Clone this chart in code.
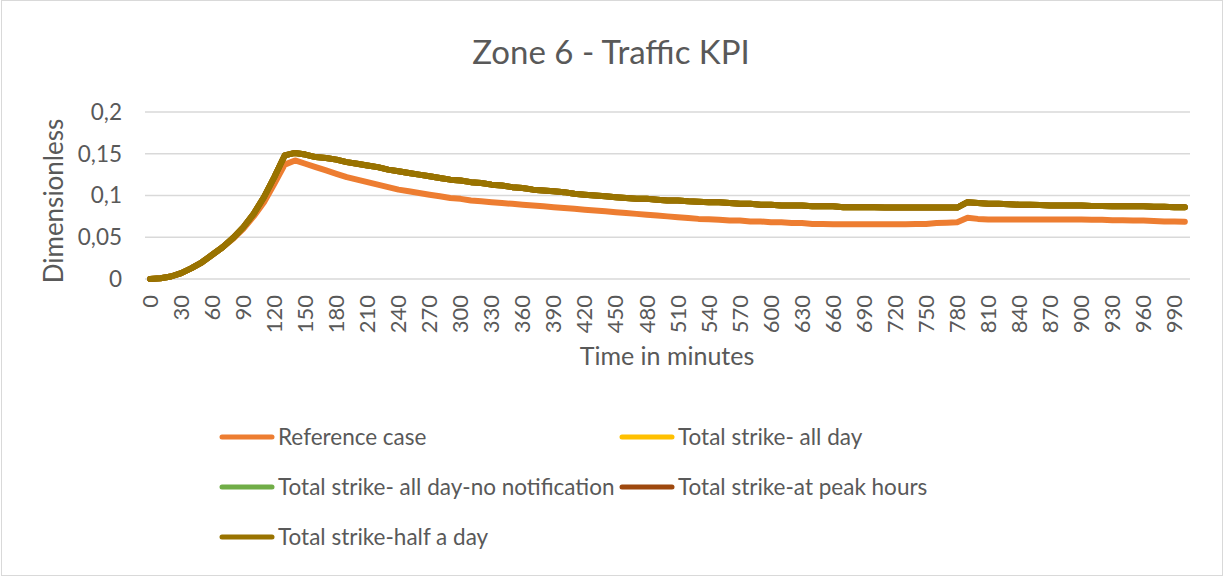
<!DOCTYPE html>
<html>
<head>
<meta charset="utf-8">
<script src="https://cdn.jsdelivr.net/npm/d3@7"></script>
<style>
  body { margin: 0; background: #fff; }
  text { font-family: Lato, 'Open Sans', sans-serif; fill: #595959; }
</style>
</head>
<body>
<div id="chart"></div>
<script>
// time axis, one point every 10 minutes
const minutes = [
  0, 10, 20, 30, 40, 50, 60, 70, 80, 90,
  100, 110, 120, 130, 140, 150, 160, 170, 180, 190,
  200, 210, 220, 230, 240, 250, 260, 270, 280, 290,
  300, 310, 320, 330, 340, 350, 360, 370, 380, 390,
  400, 410, 420, 430, 440, 450, 460, 470, 480, 490,
  500, 510, 520, 530, 540, 550, 560, 570, 580, 590,
  600, 610, 620, 630, 640, 650, 660, 670, 680, 690,
  700, 710, 720, 730, 740, 750, 760, 770, 780, 790,
  800, 810, 820, 830, 840, 850, 860, 870, 880, 890,
  900, 910, 920, 930, 940, 950, 960, 970, 980, 990,
  1000
]

const referenceCase = [
  0, 0.001, 0.003, 0.007, 0.013, 0.020, 0.029, 0.038, 0.048, 0.060,
  0.075, 0.092, 0.114, 0.137, 0.142, 0.138, 0.134, 0.130, 0.126, 0.122,
  0.119, 0.116, 0.113, 0.110, 0.107, 0.105, 0.103, 0.101, 0.099, 0.097,
  0.096, 0.094, 0.093, 0.092, 0.091, 0.090, 0.089, 0.088, 0.087, 0.086,
  0.085, 0.084, 0.083, 0.082, 0.081, 0.080, 0.079, 0.078, 0.077, 0.076,
  0.075, 0.074, 0.073, 0.072, 0.0715, 0.071, 0.070, 0.070, 0.069, 0.069,
  0.068, 0.068, 0.067, 0.067, 0.066, 0.066, 0.0657, 0.0657, 0.0657, 0.0657,
  0.0657, 0.0657, 0.0657, 0.0657, 0.0658, 0.066, 0.067, 0.0675, 0.068, 0.0734,
  0.072, 0.0714, 0.0714, 0.0714, 0.0714, 0.0714, 0.0714, 0.0714, 0.0714, 0.0714,
  0.0714, 0.071, 0.071, 0.0705, 0.0705, 0.070, 0.070, 0.0695, 0.069, 0.069,
  0.0687
]

const halfDay = [
  0, 0.001, 0.003, 0.007, 0.013, 0.020, 0.029, 0.038, 0.049, 0.062,
  0.078, 0.098, 0.122, 0.148, 0.151, 0.149, 0.146, 0.145, 0.143, 0.140,
  0.138, 0.136, 0.134, 0.131, 0.129, 0.127, 0.125, 0.123, 0.121, 0.119,
  0.118, 0.116, 0.115, 0.113, 0.112, 0.110, 0.109, 0.107, 0.106, 0.105,
  0.104, 0.102, 0.101, 0.100, 0.099, 0.098, 0.097, 0.096, 0.096, 0.095,
  0.094, 0.094, 0.093, 0.0925, 0.092, 0.092, 0.091, 0.090, 0.090, 0.089,
  0.089, 0.088, 0.088, 0.088, 0.087, 0.087, 0.087, 0.086, 0.086, 0.086,
  0.086, 0.0855, 0.0855, 0.0855, 0.0855, 0.0855, 0.0855, 0.0855, 0.0855, 0.092,
  0.091, 0.090, 0.090, 0.0895, 0.089, 0.089, 0.0885, 0.088, 0.088, 0.088,
  0.088, 0.0875, 0.0875, 0.087, 0.087, 0.087, 0.087, 0.0865, 0.0865, 0.086,
  0.086
]

// the three other strike scenarios sit under the half-day line in the picture
const allDay = halfDay.slice()
const allDayNoNotification = halfDay.slice()
const peakHours = halfDay.slice()

const yTicks = [0, 0.05, 0.1, 0.15, 0.2]

const series = [
  { name: 'Reference case', values: referenceCase, color: '#ED7D31' },
  { name: 'Total strike- all day', values: allDay, color: '#FFC000' },
  { name: 'Total strike- all day-no notification', values: allDayNoNotification, color: '#70AD47' },
  { name: 'Total strike-at peak hours', values: peakHours, color: '#9E480E' },
  { name: 'Total strike-half a day', values: halfDay, color: '#997300' }
]

const width = 1225
const height = 577

const svg = d3
  .select('#chart')
  .append('svg')
  .attr('width', width)
  .attr('height', height)

svg
  .append('rect')
  .attr('x', 1.5)
  .attr('y', 0.5)
  .attr('width', 1221)
  .attr('height', 575)
  .attr('fill', '#fff')
  .attr('stroke', '#d9d9d9')

const xPositionScale = d3
  .scalePoint()
  .domain(minutes)
  .range([145, 1190])
  .padding(0.5)

const yPositionScale = d3
  .scaleLinear()
  .domain([0, 0.2])
  .range([279, 112])

// gridlines
svg
  .selectAll('.grid')
  .data(yTicks)
  .enter()
  .append('line')
  .attr('class', 'grid')
  .attr('x1', 145)
  .attr('x2', 1190)
  .attr('y1', d => yPositionScale(d))
  .attr('y2', d => yPositionScale(d))
  .attr('stroke', '#d9d9d9')
  .attr('stroke-width', 1.5)

// y tick labels
svg
  .selectAll('.y-label')
  .data(yTicks)
  .enter()
  .append('text')
  .attr('class', 'y-label')
  .attr('x', 122)
  .attr('y', d => yPositionScale(d))
  .attr('dy', '0.35em')
  .attr('text-anchor', 'end')
  .attr('font-size', 22.5)
  .text(d => String(d).replace('.', ','))

// x tick labels, every 30 minutes
svg
  .selectAll('.x-label')
  .data(minutes.filter(d => d % 30 === 0 && d < 1000))
  .enter()
  .append('text')
  .attr('class', 'x-label')
  .attr('transform', d => 'translate(' + xPositionScale(d) + ',295) rotate(-90)')
  .attr('dy', '0.35em')
  .attr('text-anchor', 'end')
  .attr('font-size', 22)
  .text(d => d)

const line = d3
  .line()
  .x((d, i) => xPositionScale(minutes[i]))
  .y(d => yPositionScale(d))

svg
  .selectAll('.series')
  .data(series)
  .enter()
  .append('path')
  .attr('class', 'series')
  .attr('d', d => line(d.values))
  .attr('fill', 'none')
  .attr('stroke', d => d.color)
  .attr('stroke-width', 6)
  .attr('stroke-linejoin', 'round')
  .attr('stroke-linecap', 'round')

// titles
svg
  .append('text')
  .attr('x', 611)
  .attr('y', 64)
  .attr('text-anchor', 'middle')
  .attr('font-size', 33)
  .text('Zone 6 - Traffic KPI')

svg
  .append('text')
  .attr('x', 667)
  .attr('y', 365)
  .attr('text-anchor', 'middle')
  .attr('font-size', 25)
  .text('Time in minutes')

svg
  .append('text')
  .attr('transform', 'translate(63,201) rotate(-90)')
  .attr('text-anchor', 'middle')
  .attr('font-size', 26)
  .text('Dimensionless')

// legend
const legendPos = [
  { x: 220, y: 437 },
  { x: 620, y: 437 },
  { x: 220, y: 487 },
  { x: 620, y: 487 },
  { x: 220, y: 537 }
]

const legend = svg
  .selectAll('.legend')
  .data(series)
  .enter()
  .append('g')
  .attr('class', 'legend')
  .attr('transform', (d, i) => 'translate(' + legendPos[i].x + ',' + legendPos[i].y + ')')

legend
  .append('line')
  .attr('x1', 2)
  .attr('x2', 52)
  .attr('stroke', d => d.color)
  .attr('stroke-width', 5)
  .attr('stroke-linecap', 'round')

legend
  .append('text')
  .attr('x', 58)
  .attr('dy', '0.35em')
  .attr('font-size', 22.5)
  .text(d => d.name)
</script>
</body>
</html>
